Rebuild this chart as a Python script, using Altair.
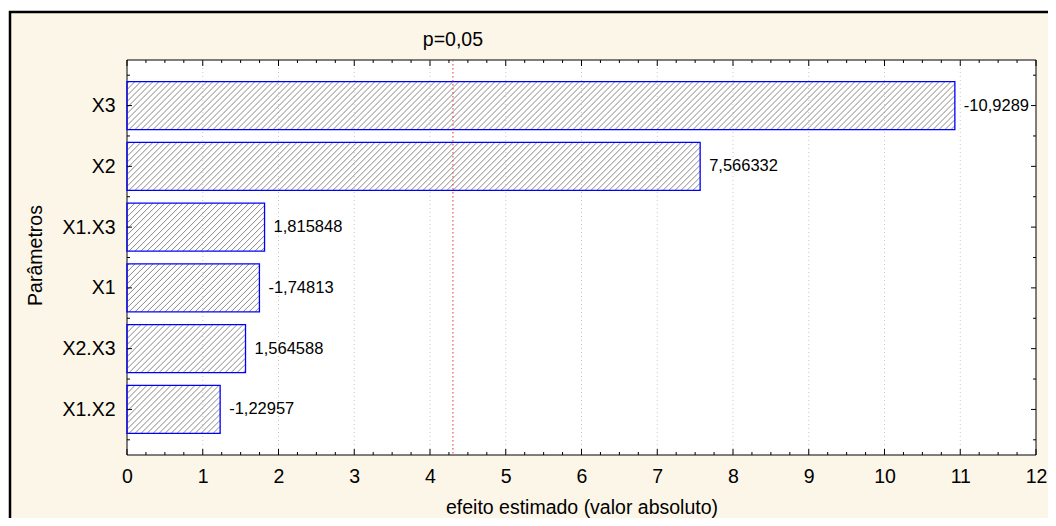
import altair as alt
import pandas as pd
import numpy as np

# ---- data ----
params = ["X3", "X2", "X1.X3", "X1", "X2.X3", "X1.X2"]
effects = [-10.9289, 7.566332, 1.815848, -1.74813, 1.564588, -1.22957]
effect_labels = ["-10,9289", "7,566332", "1,815848", "-1,74813", "1,564588", "-1,22957"]
p_label = ["p=0,05"]
t_crit = [4.303]
x_tick_values = list(range(0, 13))

# ---- layout ----
W, H = 909, 395
X_MIN, X_MAX = 0, 12
Y_MIN, Y_MAX = -0.75, 5.75
HALF = 0.395
FONT = "Liberation Sans"
BEIGE = "#FCF6E8"

bars = pd.DataFrame({
    "param": params,
    "idx": list(range(len(params))),
    "effect": effects,
    "label": effect_labels,
})
bars["absval"] = bars["effect"].abs()
bars["y0"] = bars["idx"] - HALF
bars["y1"] = bars["idx"] + HALF
bars["zero"] = 0.0

# hatch segments ("////") derived from the bar values
px_x = W / (X_MAX - X_MIN)
px_y = H / (Y_MAX - Y_MIN)
bh = 2 * HALF * px_y
step = 6.0
hrows = []
for _, r in bars.iterrows():
    bw = r["absval"] * px_x
    for s in np.arange(-bh + 2.0, bw, step):
        a = max(s, 0.0)
        b = min(s + bh, bw)
        if b - a > 0.3:
            hrows.append({
                "hx": a / px_x, "hx2": b / px_x,
                "hy": r["y1"] - (a - s) / px_y, "hy2": r["y1"] - (b - s) / px_y,
            })
hatch = pd.DataFrame(hrows)

xscale = alt.Scale(domain=[X_MIN, X_MAX], nice=False, zero=False)
yscale = alt.Scale(domain=[Y_MIN, Y_MAX], reverse=True, nice=False, zero=False)

label_arr = "[" + ",".join("'%s'" % p for p in params) + "]"
xaxis = alt.Axis(values=x_tick_values, format="d", ticks=False, domain=False, grid=False,
                 labelPadding=12, labelFlush=False, title="efeito estimado (valor absoluto)",
                 titleY=58, titleBaseline="alphabetic", zindex=1)
yaxis = alt.Axis(values=list(range(len(params))), labelExpr=label_arr + "[datum.value]",
                 ticks=False, domain=False, grid=False, labelPadding=12, labelFlush=False,
                 title="Parâmetros", titleX=-86, titleY=195, titleBaseline="alphabetic", zindex=1)


def X(f):
    return alt.X(f, type="quantitative", scale=xscale, axis=xaxis)


def Y(f):
    return alt.Y(f, type="quantitative", scale=yscale, axis=yaxis)


one = pd.DataFrame({"a": [0]})

frame = alt.Chart(one).mark_rect(fill=BEIGE, fillOpacity=1, stroke="black", strokeWidth=2.5).encode(
    x=alt.value(-117), x2=alt.value(950), y=alt.value(-48), y2=alt.value(480))

plot_bg = alt.Chart(one).mark_rect(fill="white", stroke="black", strokeWidth=1).encode(
    x=alt.value(0), x2=alt.value(W), y=alt.value(0), y2=alt.value(H))

grid = alt.Chart(pd.DataFrame({"v": x_tick_values[1:-1]})).mark_rule(
    color="#C8C8C8", strokeDash=[1, 3], strokeWidth=1).encode(
    x=X("v"), y=alt.value(0), y2=alt.value(H))

hatch_layer = alt.Chart(hatch).mark_rule(color="#7A7A7A", strokeWidth=0.9).encode(
    x=X("hx"), x2="hx2", y=Y("hy"), y2="hy2")

bar_outline = alt.Chart(bars).mark_rect(fillOpacity=0, stroke="#0000FF", strokeWidth=1.3).encode(
    x=X("zero"), x2="absval", y=Y("y0"), y2="y1")

ref = alt.Chart(pd.DataFrame({"t": t_crit})).mark_rule(
    color="#E03030", strokeDash=[1.5, 2.5], strokeWidth=1).encode(
    x=X("t"), y=alt.value(0), y2=alt.value(H))

p_text = alt.Chart(pd.DataFrame({"t": t_crit, "lab": p_label})).mark_text(
    align="center", baseline="alphabetic", font=FONT, fontSize=19.5, color="black").encode(
    x=X("t"), y=alt.value(-14), text="lab:N")

val_text = alt.Chart(bars).mark_text(
    align="left", baseline="middle", dx=9, font=FONT, fontSize=16.5, color="black").encode(
    x=X("absval"), y=Y("idx"), text="label:N")

# inward ticks on all four sides
x_major = pd.DataFrame({"v": [float(v) for v in x_tick_values]})
x_minor = pd.DataFrame({"v": [i * 0.25 for i in range(49) if i % 4]})
y_major = pd.DataFrame({"v": [float(i) for i in range(len(params))]})
y_minor = pd.DataFrame({"v": [i - 0.5 for i in range(len(params) + 1)]})

tick_layers = []
for df, ln in [(x_major, 6), (x_minor, 3)]:
    tick_layers.append(alt.Chart(df).mark_rule(color="black", strokeWidth=1).encode(
        x=X("v"), y=alt.value(H), y2=alt.value(H - ln)))
    tick_layers.append(alt.Chart(df).mark_rule(color="black", strokeWidth=1).encode(
        x=X("v"), y=alt.value(0), y2=alt.value(ln)))
for df, ln in [(y_major, 5), (y_minor, 3)]:
    tick_layers.append(alt.Chart(df).mark_rule(color="black", strokeWidth=1).encode(
        y=Y("v"), x=alt.value(0), x2=alt.value(ln)))
    tick_layers.append(alt.Chart(df).mark_rule(color="black", strokeWidth=1).encode(
        y=Y("v"), x=alt.value(W), x2=alt.value(W - ln)))

chart = alt.layer(
    frame, plot_bg, grid, hatch_layer, bar_outline, ref, *tick_layers, val_text, p_text
).properties(
    width=W, height=H,
    padding={"left": 119, "top": 52, "right": 12, "bottom": 63},
    autosize=alt.AutoSizeParams(type="none"),
    background="white",
).configure_view(
    stroke="transparent"
).configure_axis(
    labelFont=FONT, labelFontSize=19.5, labelColor="black",
    titleFont=FONT, titleFontSize=19.5, titleFontWeight="normal", titleColor="black",
)

chart.save("out.html", embed_options={"renderer": "svg", "actions": False})
